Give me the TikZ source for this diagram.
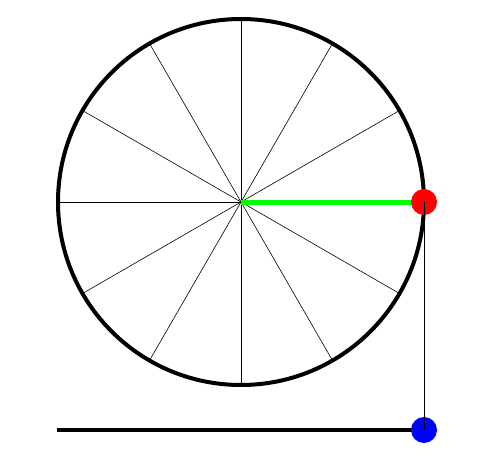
\documentclass[tikz,border=0pt]{standalone}
\usepackage{tikz}

\begin{document}
\begin{tikzpicture}[x=1pt,y=-1pt]
        \useasboundingbox (0,0) rectangle (477,463);
        \coordinate (o) at (241,202);
        \coordinate (p) at (424,202);
        \coordinate (q) at (424,430);
        \coordinate (s) at (57,430);

        \foreach \a in {0,30,...,330}
            \draw[line width=0.6pt] (o) -- ++(\a:183); % Spokes.
        \draw[line width=4pt] (o) circle (183); % Wheel.
        \draw[green, line width=5pt] (o) -- (p);

        \draw[line width=4pt] (s) -- (q);
        \fill[red] (p) circle (13);
        \fill[blue] (q) circle (13);
        \draw[line width=1pt] (p) -- (q);
    \end{tikzpicture}
\end{document}
